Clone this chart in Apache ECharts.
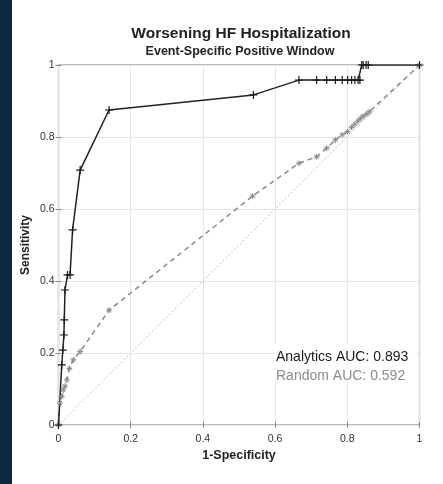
<!DOCTYPE html>
<title>roc</title>
<style>
body {margin: 0; background: #fff;}
#echart {height: 484px; width: 443px;}
</style>
<div id='echart'></div>
<script src='https://cdn.jsdelivr.net/npm/echarts@6.0.0/dist/echarts.min.js'></script>
<script>
let analytics_x = [0, 0.009, 0.012, 0.015, 0.016, 0.018, 0.025, 0.032, 0.039, 0.060, 0.14, 0.54, 0.666, 0.715, 0.743, 0.767, 0.786, 0.801, 0.812, 0.821, 0.830, 0.835, 0.84, 0.844, 0.852, 0.858, 1]
let analytics_y = [0, 0.167, 0.208, 0.25, 0.292, 0.375, 0.417, 0.417, 0.542, 0.708, 0.875, 0.917, 0.958, 0.958, 0.958, 0.958, 0.958, 0.958, 0.958, 0.958, 0.958, 0.958, 1, 1, 1, 1, 1]
let random_x = [0, 0.004, 0.009, 0.013, 0.018, 0.023, 0.030, 0.041, 0.060, 0.14, 0.538, 0.666, 0.715, 0.743, 0.767, 0.786, 0.801, 0.812, 0.821, 0.830, 0.837, 0.844, 0.854, 0.861, 1]
let random_y = [0, 0.061, 0.079, 0.097, 0.108, 0.125, 0.157, 0.181, 0.204, 0.319, 0.636, 0.727, 0.745, 0.769, 0.792, 0.806, 0.815, 0.827, 0.836, 0.845, 0.852, 0.858, 0.864, 0.870, 1]
let chance = [[0, 0], [1, 1]]
let ticks = [0, 0.2, 0.4, 0.6, 0.8, 1]
let legend_texts = ['Analytics AUC: 0.893', 'Random AUC: 0.592']

let font = 'Liberation Sans'
let zip = (xs, ys) => xs.map((x, i) => [x, ys[i]])
let fmt = v => ticks.includes(+v.toFixed(1)) ? String(+v.toFixed(1)) : ''
let plus = 'path://M0,5 L10,5 M5,0 L5,10'
let star = 'path://M0,5 L10,5 M5,0 L5,10 M1.5,1.5 L8.5,8.5 M1.5,8.5 L8.5,1.5'

let axis_common = {
	type: 'value', min: 0, max: 1, interval: 0.2,
	axisLine: {show: false},
	axisTick: {show: true, inside: false, length: 3, lineStyle: {color: '#888'}},
}

let echart = echarts.init(document.querySelector('#echart'), null, {renderer: 'canvas'})
let option = {
	animation: false,
	textStyle: {fontFamily: font},
	grid: {left: 58.5, right: 23.5, top: 65, bottom: 59, show: true, borderColor: '#a8a8a8', borderWidth: 1.5, backgroundColor: '#fff'},
	title: [
		{text: 'Worsening HF Hospitalization', left: 241, top: 20, padding: 0, textAlign: 'center', textStyle: {fontFamily: font, fontSize: 15.5, fontWeight: 'bold', color: '#222'}},
		{text: 'Event-Specific Positive Window', left: 240, top: 41, padding: 0, textAlign: 'center', textStyle: {fontFamily: font, fontSize: 12.5, fontWeight: 'bold', color: '#222'}},
	],
	xAxis: [
		{...axis_common, position: 'bottom', name: '1-Specificity', nameLocation: 'middle', nameGap: 20, nameMoveOverlap: false,
			nameTextStyle: {fontFamily: font, fontSize: 12.5, fontWeight: 'bold', color: '#222'},
			axisLabel: {fontFamily: font, fontSize: 10.5, color: '#333', margin: 5, formatter: fmt},
			splitLine: {show: true, lineStyle: {color: '#e6e6e6', width: 1}}},
		{...axis_common, position: 'top', axisLabel: {show: false}, splitLine: {show: false}},
	],
	yAxis: [
		{...axis_common, position: 'left', name: 'Sensitivity', nameLocation: 'middle', nameGap: 22, nameMoveOverlap: false,
			nameTextStyle: {fontFamily: font, fontSize: 12, fontWeight: 'bold', color: '#222'},
			axisLabel: {fontFamily: font, fontSize: 10.5, color: '#333', margin: 4, formatter: fmt},
			splitLine: {show: true, lineStyle: {color: '#e6e6e6', width: 1}}},
		{...axis_common, position: 'right', axisLabel: {show: false}, splitLine: {show: false}},
	],
	series: [
		{type: 'line', name: 'chance', data: chance, showSymbol: false, silent: true,
			lineStyle: {color: '#bdbdbd', width: 1, type: [2, 2]}},
		{type: 'line', name: 'Random', data: zip(random_x, random_y), symbol: star, symbolSize: 6,
			itemStyle: {color: 'rgba(0,0,0,0)', borderColor: '#8a8a8a', borderWidth: 1},
			lineStyle: {color: '#8a8a8a', width: 1.5, type: [5, 4]}},
		{type: 'line', name: 'Analytics', data: zip(analytics_x, analytics_y), symbol: plus, symbolSize: 8,
			itemStyle: {color: 'rgba(0,0,0,0)', borderColor: '#1a1a1a', borderWidth: 1.2},
			lineStyle: {color: '#222', width: 1.5}},
	],
	graphic: [
		{type: 'rect', left: 0, top: 0, z: 100, shape: {width: 12, height: 484}, style: {fill: '#0b2a40'}},
		{type: 'rect', left: 274, top: 344, z: 100, shape: {width: 141, height: 39}, style: {fill: '#fff'}},
		{type: 'text', left: 276, top: 345, z: 101, style: {text: legend_texts[0], font: `14px "${font}"`, fill: '#1a1a1a'}},
		{type: 'text', left: 276, top: 364, z: 101, style: {text: legend_texts[1], font: `14px "${font}"`, fill: '#8c8c8c'}},
	],
}

echart.setOption(option)
addEventListener('resize', function (event) {echart.resize()})
</script>
